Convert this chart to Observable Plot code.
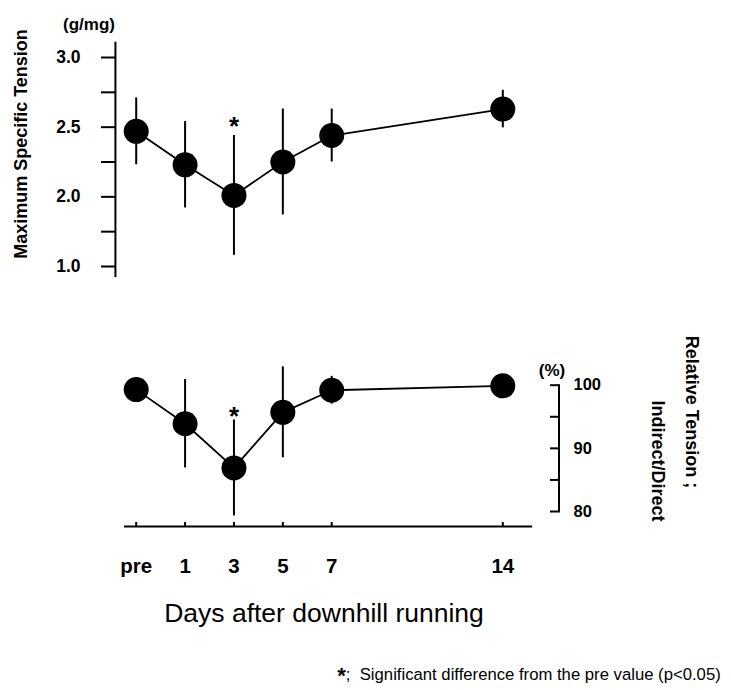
<!DOCTYPE html>
<html><head><meta charset="utf-8">
<script src="https://cdn.jsdelivr.net/npm/d3@7"></script>
<script src="https://cdn.jsdelivr.net/npm/@observablehq/plot@0.6"></script>
<style>
body{margin:0;background:#fff;}
#chart{position:relative;width:731px;height:690px;font-family:"Liberation Sans",Arial,sans-serif;color:#000;overflow:hidden;}
#chart svg{position:absolute;left:0;top:0;}
.lbl{position:absolute;white-space:nowrap;line-height:1;transform:translate(-50%,-50%);}
.b{font-weight:bold;}
</style></head><body><div id="chart"></div>
<script>
// ---- data ----
const days = [-1, 1, 3, 5, 7, 14];               // "pre" is placed one day before day 1
const dayLabels = ["pre", "1", "3", "5", "7", "14"];
const tensionMean = [2.47, 2.23, 2.01, 2.25, 2.44, 2.63];   // g/mg
const tensionSD   = [0.24, 0.31, 0.43, 0.38, 0.19, 0.135];
const relMean = [99.3, 93.9, 86.9, 95.7, 99.2, 99.9];       // % indirect/direct
const relSD   = [0.5, 7.0, 7.6, 7.2, 2.2, 0.5];
const sigDays = [3];
// broken top axis: the "1.0" label sits just below the 2.0 break
const topTicks = [1.5, 1.75, 2, 2.25, 2.5, 2.75, 3];
const topTickLabels = ["1.0", "", "2.0", "", "2.5", "", "3.0"];
const bottomTicks = [80, 85, 90, 95, 100];
const bottomTickLabels = ["80", "", "90", "", "100"];

const topData = days.map((d, i) => ({day: d, mean: tensionMean[i], sd: tensionSD[i]}));
const botData = days.map((d, i) => ({day: d, mean: relMean[i], sd: relSD[i]}));

// ---- layout ----
const W = 731, H = 690;
const FONT = '"Liberation Sans", Arial, sans-serif';
const xScale = {type: "linear", domain: [-1, 14], range: [135.7, 502.3]};
const leftAxisDay = -1.85, topAxisExtent = [1.42, 3.11];
const rightAxisDay = 16.3;
const xAxisExtent = [-1.48, 15.22], xAxisAt = 77.62;

const topPlot = Plot.plot({
  width: W, height: H,
  marginLeft: 115, marginTop: 42, marginBottom: H - 277, marginRight: 20,
  style: {background: "transparent", fontFamily: FONT, color: "#000"},
  x: {...xScale, axis: null},
  y: {type: "linear", domain: [1.5, 3], range: [266, 57]},
  marks: [
    Plot.ruleX([leftAxisDay], {y1: topAxisExtent[0], y2: topAxisExtent[1], strokeWidth: 2}),
    Plot.axisY({anchor: "left", ticks: topTicks, tickSize: 14, tickPadding: 21, strokeWidth: 2,
      tickFormat: (d) => topTickLabels[topTicks.indexOf(d)], fontSize: 17.5, fontWeight: "bold", label: null}),
    Plot.ruleX(topData, {x: "day", y1: (d) => d.mean - d.sd, y2: (d) => d.mean + d.sd, strokeWidth: 2}),
    Plot.line(topData, {x: "day", y: "mean", strokeWidth: 1.8}),
    Plot.dot(topData, {x: "day", y: "mean", r: 12.5, fill: "#000"}),
    Plot.text(topData.filter((d) => sigDays.includes(d.day)), {x: "day", y: (d) => d.mean + d.sd,
      text: () => "*", dy: -9, fontSize: 26, fontWeight: "bold"})
  ]
});

const botPlot = Plot.plot({
  width: W, height: H,
  marginLeft: 124, marginTop: 370, marginBottom: H - 526, marginRight: W - 559,
  style: {background: "transparent", fontFamily: FONT, color: "#000"},
  x: xScale,
  y: {type: "linear", domain: [80, 100], range: [511, 384.7]},
  marks: [
    Plot.ruleX([rightAxisDay], {y1: 80, y2: 100, strokeWidth: 2}),
    Plot.ruleY([xAxisAt], {x1: xAxisExtent[0], x2: xAxisExtent[1], strokeWidth: 2}),
    Plot.axisY({anchor: "right", ticks: bottomTicks, tickSize: -10, tickPadding: 24, strokeWidth: 2,
      tickFormat: (d) => bottomTickLabels[bottomTicks.indexOf(d)], fontSize: 16.5, fontWeight: "bold", label: null}),
    Plot.axisX({anchor: "bottom", ticks: days, tickSize: -4, tickPadding: 36, strokeWidth: 2,
      tickFormat: (d) => dayLabels[days.indexOf(d)], fontSize: 20.5, fontWeight: "bold", label: null}),
    Plot.ruleX(botData, {x: "day", y1: (d) => d.mean - d.sd, y2: (d) => d.mean + d.sd, strokeWidth: 2}),
    Plot.line(botData, {x: "day", y: "mean", strokeWidth: 1.8}),
    Plot.dot(botData, {x: "day", y: "mean", r: 12.5, fill: "#000"}),
    Plot.text(botData.filter((d) => sigDays.includes(d.day)), {x: "day", y: (d) => d.mean + d.sd,
      text: () => "*", dy: -3, fontSize: 26, fontWeight: "bold"})
  ]
});

const chart = document.getElementById("chart");
chart.appendChild(topPlot);
chart.appendChild(botPlot);

function label(text, x, y, size, bold, rotate) {
  const el = document.createElement("div");
  el.className = "lbl" + (bold ? " b" : "");
  el.style.left = x + "px";
  el.style.top = y + "px";
  el.style.fontSize = size + "px";
  if (rotate) el.style.transform = `translate(-50%,-50%) rotate(${rotate}deg)`;
  el.innerHTML = text;
  chart.appendChild(el);
  return el;
}
label("Maximum Specific Tension", 21, 144, 18, true, -90);
label("(g/mg)", 89, 24, 17, true);
label("(%)", 552, 370, 17, true);
label("Relative Tension ;", 692, 412, 18, true, 90);
label("Indirect/Direct", 658, 461, 18, true, 90);
label("Days after downhill running", 324, 613, 26.5, false);
label('<b style="font-size:22px;vertical-align:-3px">*</b>;&nbsp; Significant difference from the pre value (p&lt;0.05)', 529, 676, 16.7, false);
</script></body></html>
